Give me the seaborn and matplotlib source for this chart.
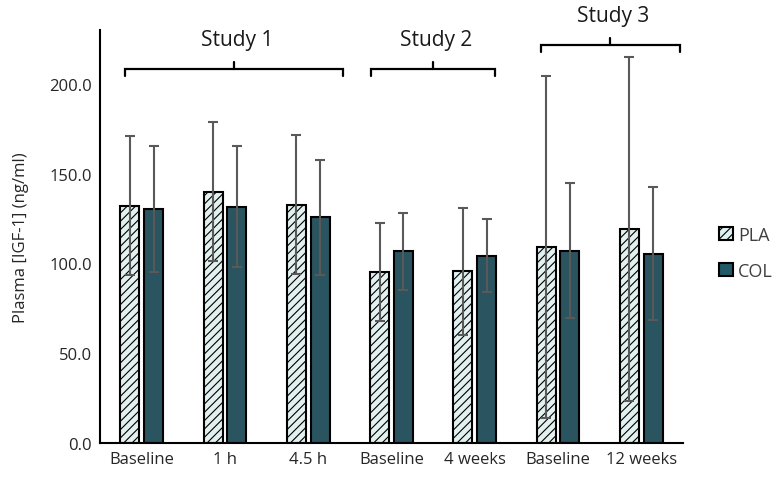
import numpy as np
import pandas as pd
import matplotlib
matplotlib.use('Agg')
import matplotlib.pyplot as plt
import seaborn as sns

# Data (mean and SD, ng/ml)
slots = ['S1 Baseline', 'S1 1 h', 'S1 4.5 h', 'S2 Baseline', 'S2 4 weeks', 'S3 Baseline', 'S3 12 weeks']
tick_labels = ['Baseline', '1 h', '4.5 h', 'Baseline', '4 weeks', 'Baseline', '12 weeks']
groups = ['PLA', 'COL']
pla_mean = [132.2, 140.0, 132.8, 95.4, 95.7, 109.1, 119.4]
pla_sd = [38.5, 38.7, 38.7, 27.2, 35.3, 95.2, 95.8]
col_mean = [130.4, 131.7, 125.7, 106.7, 104.4, 107.2, 105.4]
col_sd = [35.0, 33.7, 31.9, 21.3, 20.4, 37.6, 37.0]

studies = ['Study 1', 'Study 2', 'Study 3']
study_span = [(-0.2, 2.42), (2.75, 4.24), (4.79, 6.46)]
study_level = [208.3, 208.3, 221.7]

pla_color = '#dff3f3'
col_color = '#215968'
err_color = '#595959'

df = pd.DataFrame({
    'slot': slots * 2,
    'group': ['PLA'] * len(slots) + ['COL'] * len(slots),
    'value': pla_mean + col_mean,
})

sns.set_style('white')
plt.rcParams['font.family'] = ['Open Sans', 'DejaVu Sans']
plt.rcParams['hatch.linewidth'] = 0.8
plt.rcParams['hatch.color'] = '#1f3f4a'

fig = plt.figure(figsize=(7.74, 4.89), dpi=100)
ax = fig.add_axes([100 / 774, 45 / 489, 583 / 774, 413 / 489])

sns.barplot(data=df, x='slot', y='value', hue='group', order=slots, hue_order=groups,
            palette=[pla_color, col_color], width=0.57, gap=0.2, errorbar=None,
            edgecolor='black', linewidth=1.5, legend=False, ax=ax)

# hatch the placebo bars, add SD error bars
for bar in ax.containers[0]:
    bar.set_hatch('////')
for cont, sds in zip(ax.containers, [pla_sd, col_sd]):
    xs = [b.get_x() + b.get_width() / 2 for b in cont]
    hs = [b.get_height() for b in cont]
    ax.errorbar(xs, hs, yerr=sds, fmt='none', ecolor=err_color, elinewidth=1.5,
                capsize=3.5, capthick=1.5, zorder=5)

ax.set_xlim(-0.5, len(slots) - 0.5)
ax.set_ylim(0, 230)
ax.set_yticks([0, 50, 100, 150, 200])
ax.set_yticklabels([f'{v:.1f}' for v in [0, 50, 100, 150, 200]], fontsize=12, color='#262626')
ax.set_xticks(range(len(slots)))
ax.set_xticklabels(tick_labels, fontsize=12, color='#262626')
ax.tick_params(axis='both', length=0, pad=6)
ax.set_xlabel('')
ax.set_ylabel('Plasma [IGF-1] (ng/ml)', fontsize=12, color='#262626', labelpad=14)
sns.despine(ax=ax)
for s in ['left', 'bottom']:
    ax.spines[s].set_color('black')
    ax.spines[s].set_linewidth(1.5)

# study brackets
drop = 4.0
for name, (x0, x1), lvl in zip(studies, study_span, study_level):
    xm = (x0 + x1) / 2
    ax.plot([x0, x0, x1, x1], [lvl - drop, lvl, lvl, lvl - drop], color='black', lw=1.6,
            clip_on=False, solid_joinstyle='miter')
    ax.plot([xm, xm], [lvl, lvl + drop], color='black', lw=1.6, clip_on=False)
    ax.text(xm + 0.04, lvl + 10.5, name, ha='center', va='bottom', fontsize=15,
            color='#1a1a1a', clip_on=False)

# legend
from matplotlib.patches import Patch
handles = [Patch(facecolor=pla_color, edgecolor='black', hatch='////', linewidth=1.5),
           Patch(facecolor=col_color, edgecolor='black', linewidth=1.5)]
leg = ax.legend(handles, groups, loc='center left', bbox_to_anchor=(1.062, 0.46),
                frameon=False, fontsize=13, handlelength=0.75, handleheight=0.75,
                handletextpad=0.3, labelspacing=1.0, borderpad=0, borderaxespad=0)
for t in leg.get_texts():
    t.set_color('#404040')

fig.savefig('out.png', dpi=100)
